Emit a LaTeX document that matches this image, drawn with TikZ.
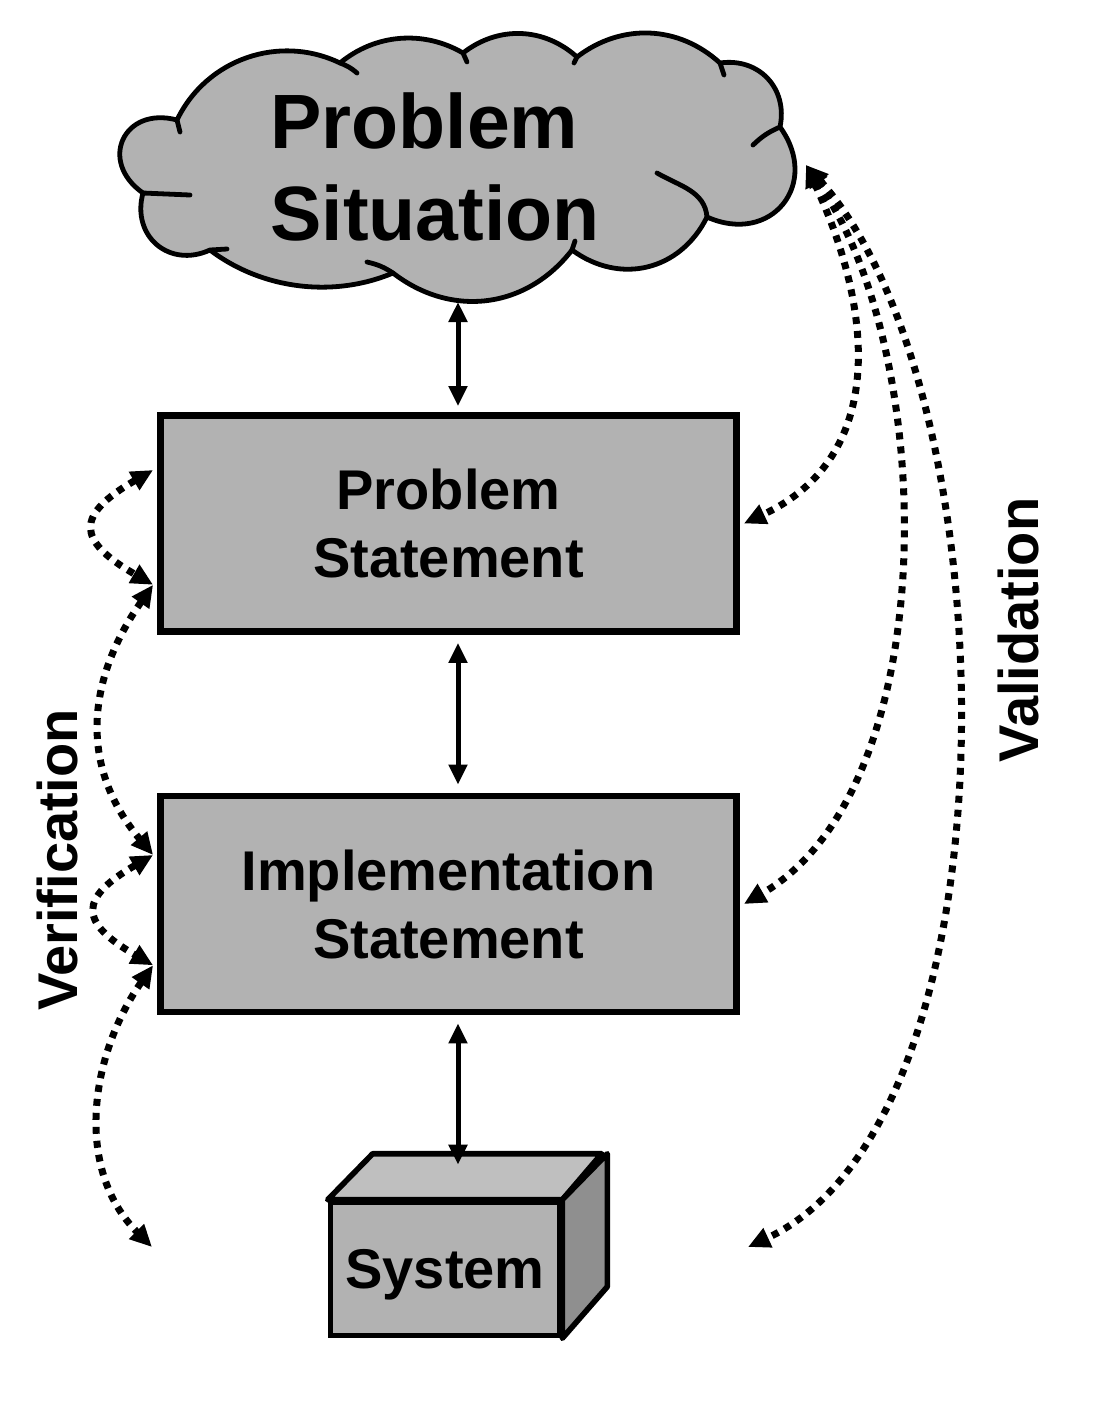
\documentclass[tikz,border=0pt]{standalone}
\usepackage{fontspec}
\setmainfont{Liberation Sans}
\usetikzlibrary{arrows.meta,calc}
\tikzset{
  block/.style={
    rectangle,
    draw=black,
    line width=3.4pt,
    fill=gray!60,
    align=center,
    inner sep=0pt,
    minimum width=288pt,
    minimum height=108pt,
    font=\bfseries\fontsize{28}{34}\selectfont
  },
  cloudline/.style={
    draw=black,
    line width=2.4pt,
    line cap=round,
    line join=round
  },
  sittext/.style={
    align=left,
    inner sep=0pt,
    font=\bfseries\fontsize{38.5}{46}\selectfont
  },
  cubeface/.style={
    rectangle,
    draw=black,
    line width=2.8pt,
    fill=gray!60,
    inner sep=0pt,
    minimum width=114.5pt,
    minimum height=66.5pt,
    font=\bfseries\fontsize{28}{34}\selectfont
  },
  sidelabel/.style={
    rotate=90,
    inner sep=0pt,
    font=\bfseries\fontsize{28}{34}\selectfont
  },
  arrow/.style={
    {Triangle[length=10pt,width=9pt]}-{Triangle[length=10pt,width=9pt]},
    line width=2.5pt
  },
  dottedarrow/.style={
    {Triangle[length=11pt,width=10pt]}-{Triangle[length=11pt,width=10pt]},
    line width=3.5pt,
    dash pattern=on 3.5pt off 3.5pt
  }
}

\begin{document}
\begin{tikzpicture}[x=0.5pt,y=-0.5pt]
  \useasboundingbox (0,0) rectangle (1100,1410);

  % problem situation cloud
  \filldraw[cloudline, fill=gray!60] (143,193)
    to[bend left=80,looseness=1.75] (177,120)
    to[bend left=45] (340,63)
    to[bend left=35,looseness=0.95] (463,53)
    to[bend left=40] (577,57)
    to[bend left=40] (720,63)
    to[bend left=55,looseness=1.15] (780,127)
    to[bend left=75,looseness=1.55] (707,217)
    to[bend left=50,looseness=1.1] (572,250)
    to[bend left=45,looseness=1.05] (393,273)
    to[bend left=30,looseness=0.9] (210,250)
    to[bend left=65,looseness=1.3] (143,193) -- cycle;
  \draw[cloudline]
    (177,120) -- (180,132)
    (340,63) to[bend left=10] (357,73)
    (463,53) -- (467,62)
    (577,57) -- (574,63)
    (720,63) -- (724,75)
    (780,127) to[bend right=10] (753,145)
    (707,217) to[out=95,in=-30] (657,173)
    (572,250) -- (575,241)
    (393,273) to[bend right=10] (367,262)
    (210,250) -- (227,249)
    (143,193) -- (190,195);
  \node[sittext] (sit) at (435,167) {Problem\\Situation};
  \coordinate (sit-bot) at (458,300);
  \coordinate (sit-tip) at (806,165);

  \node[block] (ps) at (448.5,523.5) {Problem\\Statement};
  \node[block] (is) at (448.5,904) {Implementation\\Statement};

  % the system box
  \node[cubeface] (sys) at (445,1269) {};
  \draw[line width=2.8pt, line join=round, fill=gray!50]
    (sys.north west) -- ++(45,-46) -- ++(229,0) -- (sys.north east) -- cycle;
  \draw[line width=2.8pt, line join=round, fill=gray!88]
    (sys.north east) -- ++(45,-46) -- ++(0,133) -- (sys.south east) -- cycle;
  \node[cubeface, fill=none, draw=none] (sys-text) at ([shift={(0,6)}]sys.center) {System};
  \coordinate (sys-top) at ([shift={(13,-35)}]sys.north);

  \node[sidelabel] (ver) at (57,860) {Verification};
  \node[sidelabel] (val) at (1018,630) {Validation};

  % verification points
  \coordinate (ps-a) at ($(ps.north west)!0.26!(ps.south west)+(-4,0)$);
  \coordinate (ps-b) at ($(ps.north west)!0.775!(ps.south west)+(-4,0)$);
  \coordinate (is-a) at ($(is.north west)!0.28!(is.south west)+(-4,0)$);
  \coordinate (is-b) at ($(is.north west)!0.775!(is.south west)+(-4,0)$);
  \coordinate (ver-end) at (152,1247);
  \coordinate (val-end) at (748,1247);

  \draw[arrow, shorten <=1pt, shorten >=3pt] (sit-bot) -- (ps.north -| sit-bot);
  \draw[arrow, shorten <=4pt, shorten >=4pt] (ps.south -| sit-bot) -- (is.north -| sit-bot);
  \draw[arrow, shorten <=4pt] (is.south -| sit-bot) -- (sys-top);

  \draw[dottedarrow] (ps-a) to[out=210,in=150,looseness=2] (ps-b);
  \draw[dottedarrow] (ps-b) to[out=235,in=130,looseness=1.1] (is-a);
  \draw[dottedarrow] (is-a) to[out=210,in=150,looseness=2] (is-b);
  \draw[dottedarrow] (is-b) to[out=235,in=135,looseness=1] (ver-end);

  \draw[dottedarrow] (sit-tip) to[out=-65,in=25,looseness=1.12] ([xshift=2pt]ps.east);
  \draw[dottedarrow] (sit-tip) to[out=-55,in=30,looseness=0.8] ([xshift=2pt]is.east);
  \draw[dottedarrow] (sit-tip) to[out=-48,in=25,looseness=0.72] (val-end);
\end{tikzpicture}
\end{document}
